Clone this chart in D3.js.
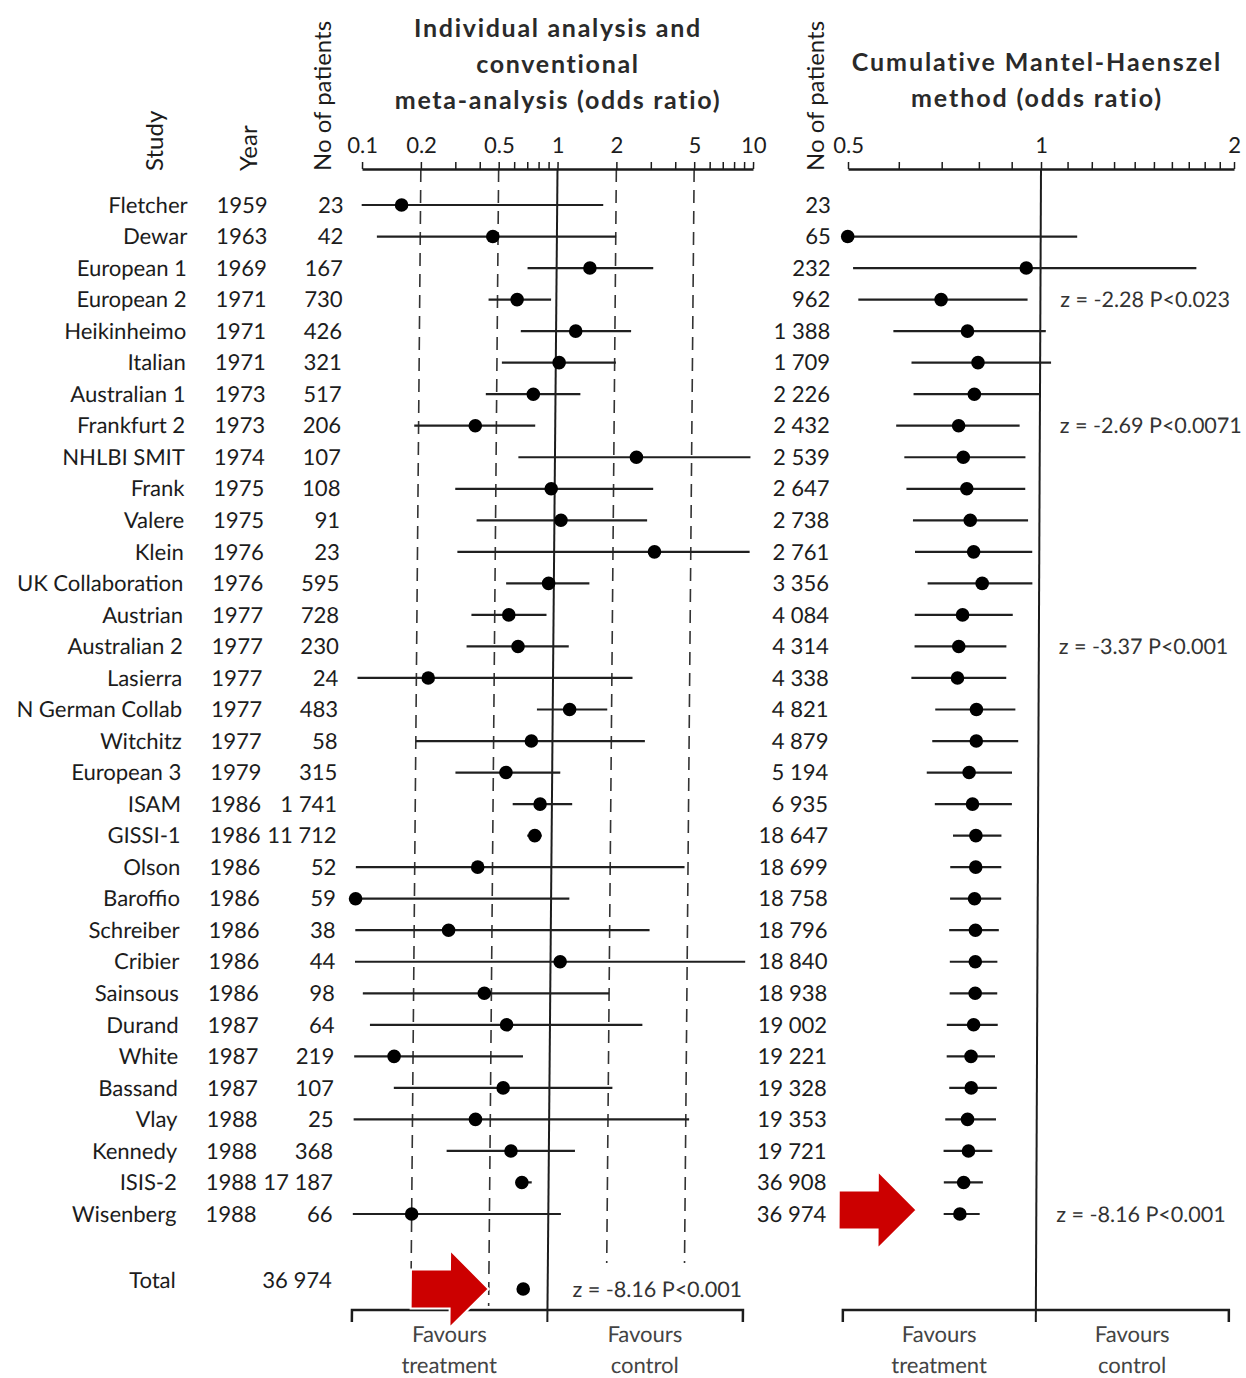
<!DOCTYPE html>
<html>
<head>
<meta charset="utf-8">
<script src="https://cdn.jsdelivr.net/npm/d3@7"></script>
<style>
  body { margin: 0; background: #fff; }
  svg { display: block; font-family: Lato, "Open Sans", sans-serif; }
</style>
</head>
<body>
<svg id="chart" width="1246" height="1378"></svg>
<script>
/* ---------- data ---------- */
const studies = ["Fletcher", "Dewar", "European 1", "European 2", "Heikinheimo", "Italian",
  "Australian 1", "Frankfurt 2", "NHLBI SMIT", "Frank", "Valere", "Klein", "UK Collaboration",
  "Austrian", "Australian 2", "Lasierra", "N German Collab", "Witchitz", "European 3", "ISAM",
  "GISSI-1", "Olson", "Baroffio", "Schreiber", "Cribier", "Sainsous", "Durand", "White",
  "Bassand", "Vlay", "Kennedy", "ISIS-2", "Wisenberg"];
const years = [1959, 1963, 1969, 1971, 1971, 1971, 1973, 1973, 1974, 1975, 1975, 1976, 1976,
  1977, 1977, 1977, 1977, 1977, 1979, 1986, 1986, 1986, 1986, 1986, 1986, 1986, 1987, 1987,
  1987, 1988, 1988, 1988, 1988];
const patients = [23, 42, 167, 730, 426, 321, 517, 206, 107, 108, 91, 23, 595, 728, 230, 24,
  483, 58, 315, 1741, 11712, 52, 59, 38, 44, 98, 64, 219, 107, 25, 368, 17187, 66];

// individual odds ratios with 95% CI
const orEst  = [0.16, 0.47, 1.48, 0.63, 1.26, 1.04, 0.77, 0.39, 2.61, 0.96, 1.08, 3.26, 0.94,
  0.59, 0.66, 0.23, 1.22, 0.78, 0.58, 0.87, 0.82, 0.42, 0.10, 0.30, 1.12, 0.46, 0.60, 0.16,
  0.58, 0.42, 0.64, 0.73, 0.20];
const orLow  = [0.10, 0.12, 0.71, 0.45, 0.66, 0.53, 0.44, 0.19, 0.65, 0.31, 0.40, 0.32, 0.57,
  0.38, 0.36, 0.10, 0.83, 0.20, 0.32, 0.63, 0.75, 0.10, 0.10, 0.10, 0.10, 0.11, 0.12, 0.10,
  0.16, 0.10, 0.30, 0.68, 0.10];
const orHigh = [1.72, 2.01, 3.12, 0.94, 2.42, 2.03, 1.34, 0.79, 10, 3.19, 2.98, 10, 1.52,
  0.92, 1.20, 2.55, 1.90, 2.97, 1.10, 1.27, 0.89, 4.8, 1.24, 3.2, 9.9, 2.0, 2.97, 0.73,
  2.1, 5.2, 1.36, 0.82, 1.16];

// cumulative Mantel-Haenszel odds ratios with 95% CI
const cumPatients = [23, 65, 232, 962, 1388, 1709, 2226, 2432, 2539, 2647, 2738, 2761, 3356,
  4084, 4314, 4338, 4821, 4879, 5194, 6935, 18647, 18699, 18758, 18796, 18840, 18938, 19002,
  19221, 19328, 19353, 19721, 36908, 36974];
const cumEst  = [null, 0.50, 0.95, 0.70, 0.77, 0.80, 0.79, 0.747, 0.76, 0.77, 0.78, 0.79, 0.815,
  0.76, 0.75, 0.747, 0.80, 0.80, 0.78, 0.79, 0.80, 0.80, 0.797, 0.80, 0.80, 0.80, 0.796,
  0.789, 0.79, 0.78, 0.783, 0.77, 0.76];
const cumLow  = [null, 0.50, 0.51, 0.52, 0.59, 0.63, 0.635, 0.597, 0.615, 0.62, 0.635, 0.64,
  0.67, 0.64, 0.64, 0.633, 0.69, 0.683, 0.67, 0.69, 0.737, 0.73, 0.73, 0.728, 0.73, 0.73,
  0.723, 0.723, 0.73, 0.72, 0.716, 0.717, 0.717];
const cumHigh = [null, 1.14, 1.75, 0.955, 1.02, 1.04, 1.00, 0.93, 0.95, 0.95, 0.96, 0.975,
  0.976, 0.91, 0.89, 0.89, 0.92, 0.93, 0.91, 0.91, 0.877, 0.877, 0.877, 0.87, 0.866, 0.866,
  0.868, 0.86, 0.866, 0.864, 0.853, 0.825, 0.816];

const totalPatients = 36974;
const totalOR = 0.75;

const leftTicks = [0.1, 0.2, 0.3, 0.4, 0.5, 0.6, 0.7, 0.8, 0.9, 1, 2, 3, 4, 5, 6, 7, 8, 9, 10];
const leftLabels = [0.1, 0.2, 0.5, 1, 2, 5, 10];
const dashedRefs = [0.2, 0.5, 2, 5];
const rightTicks = [0.5, 0.6, 0.7, 0.8, 0.9, 1, 1.1, 1.2, 1.3, 1.4, 1.5, 1.6, 1.7, 1.8, 1.9, 2];
const rightLabels = [0.5, 1, 2];

const zNotes = [
  { row: 3, text: "z = -2.28 P<0.023" },
  { row: 7, text: "z = -2.69 P<0.0071" },
  { row: 14, text: "z = -3.37 P<0.001" },
  { row: 32, text: "z = -8.16 P<0.001" }
];
const totalNote = "z = -8.16 P<0.001";

/* ---------- layout ---------- */
const svg = d3.select("#chart");
const ink = "#1c1c1c";
const axisY = 169;
const bottomY = 1310;
const totalY = 1289;

const rowY = d3.scaleLinear().domain([0, studies.length - 1]).range([205, 1214]);
const xL = d3.scaleLog().domain([0.1, 10]).range([362, 753]).clamp(true);
const xR = d3.scaleLog().base(2).domain([0.5, 2]).range([848, 1234]).clamp(true);

const nf = d3.formatLocale({ decimal: ".", thousands: " ", grouping: [3], currency: ["", ""] }).format(",");

svg.append("rect").attr("width", 1246).attr("height", 1378).attr("fill", "#fff");

// the scanned original leans slightly; each block gets its own small shear
function shear(k) {
  const deg = Math.atan(k) * 180 / Math.PI;
  return `translate(0,${axisY}) skewX(${deg}) translate(0,${-axisY})`;
}

/* ---------- column headers ---------- */
const headers = [
  { x: 163, text: "Study" },
  { x: 257, text: "Year" },
  { x: 331, text: "No of patients" },
  { x: 824, text: "No of patients" }
];
svg.selectAll(".colhead")
  .data(headers)
  .enter().append("text")
  .attr("class", "colhead")
  .attr("transform", d => `translate(${d.x},171) rotate(-90)`)
  .attr("font-size", 24)
  .attr("fill", ink)
  .text(d => d.text);

// titles
const titleL = ["Individual analysis and", "conventional", "meta-analysis (odds ratio)"];
svg.selectAll(".titleL")
  .data(titleL)
  .enter().append("text")
  .attr("x", 558)
  .attr("y", (d, i) => 37 + i * 36)
  .attr("text-anchor", "middle")
  .attr("font-size", 25)
  .attr("font-weight", 700)
  .attr("letter-spacing", 1.7)
  .attr("fill", "#2a2a2a")
  .text(d => d);

const titleR = ["Cumulative Mantel-Haenszel", "method (odds ratio)"];
svg.selectAll(".titleR")
  .data(titleR)
  .enter().append("text")
  .attr("x", 1037)
  .attr("y", (d, i) => 71 + i * 36)
  .attr("text-anchor", "middle")
  .attr("font-size", 25)
  .attr("font-weight", 700)
  .attr("letter-spacing", 1.9)
  .attr("fill", "#2a2a2a")
  .text(d => d);

/* ---------- table columns ---------- */
const cols = svg.append("g").attr("transform", shear(-0.011))
  .attr("font-size", 22).attr("fill", ink).attr("text-anchor", "end");

cols.selectAll(".study").data(studies).enter().append("text")
  .attr("x", 188).attr("y", (d, i) => rowY(i)).attr("dy", "0.35em").text(d => d);
cols.selectAll(".year").data(years).enter().append("text")
  .attr("x", 268).attr("y", (d, i) => rowY(i)).attr("dy", "0.35em").text(d => d);
cols.selectAll(".npat").data(patients).enter().append("text")
  .attr("x", 344).attr("y", (d, i) => rowY(i)).attr("dy", "0.35em").text(d => nf(d));

cols.append("text").attr("x", 188).attr("y", totalY - 9).attr("dy", "0.35em").text("Total");
cols.append("text").attr("x", 344).attr("y", totalY - 9).attr("dy", "0.35em").text(nf(totalPatients));

/* ---------- left panel ---------- */
const left = svg.append("g").attr("transform", shear(-0.0088));

left.selectAll(".dash").data(dashedRefs).enter().append("line")
  .attr("x1", d => xL(d)).attr("x2", d => xL(d))
  .attr("y1", axisY).attr("y2", d => d < 1 ? bottomY - 4 : 1263)
  .attr("stroke", "#333").attr("stroke-width", 1.6)
  .attr("stroke-dasharray", "13,8");

left.append("line")
  .attr("x1", xL(1)).attr("x2", xL(1))
  .attr("y1", axisY).attr("y2", bottomY + 12)
  .attr("stroke", ink).attr("stroke-width", 2);

const axL = d3.axisTop(xL).tickValues(leftTicks)
  .tickFormat(d => leftLabels.includes(d) ? d : "")
  .tickSize(7).tickSizeOuter(0).tickPadding(9);
const gAxL = left.append("g").attr("transform", `translate(0,${axisY})`).call(axL);
gAxL.select(".domain").attr("stroke", ink).attr("stroke-width", 2.5);
gAxL.selectAll(".tick line").attr("stroke", ink).attr("stroke-width", 1.5);
gAxL.selectAll(".tick text").attr("font-size", 22).attr("fill", ink)
  .attr("font-family", "Lato, 'Open Sans', sans-serif");

left.selectAll(".ci").data(studies).enter().append("line")
  .attr("x1", (d, i) => xL(orLow[i])).attr("x2", (d, i) => xL(orHigh[i]))
  .attr("y1", (d, i) => rowY(i)).attr("y2", (d, i) => rowY(i))
  .attr("stroke", "#202020").attr("stroke-width", 2.2);

left.selectAll(".pt").data(studies).enter().append("circle")
  .attr("cx", (d, i) => xL(orEst[i])).attr("cy", (d, i) => rowY(i))
  .attr("r", 6.8).attr("fill", "#000");

left.append("circle").attr("cx", xL(totalOR)).attr("cy", totalY).attr("r", 6.8).attr("fill", "#000");
left.append("text").attr("x", xL(1) + 25).attr("y", totalY).attr("dy", "0.35em")
  .attr("font-size", 21.5).attr("fill", "#333").text(totalNote);

// bottom axis of the left panel
const bL = left.append("g").attr("fill", "none").attr("stroke", ink).attr("stroke-width", 2.5);
bL.append("path")
  .attr("d", `M${xL(0.1)},${bottomY + 12}V${bottomY}H${xL(10)}V${bottomY + 12}`);
left.selectAll(".favL").data([[0.1, 1, "treatment"], [1, 10, "control"]]).enter()
  .each(function (d) {
    const cx = (xL(d[0]) + xL(d[1])) / 2;
    const t = d3.select(this).append("text").attr("text-anchor", "middle")
      .attr("font-size", 22).attr("fill", "#444");
    t.append("tspan").attr("x", cx).attr("y", 1342).text("Favours");
    t.append("tspan").attr("x", cx).attr("y", 1373).text(d[2]);
  });

/* ---------- right panel ---------- */
const right = svg.append("g").attr("transform", shear(-0.0045));

right.selectAll(".cum").data(cumPatients).enter().append("text")
  .attr("x", 831).attr("y", (d, i) => rowY(i)).attr("dy", "0.35em")
  .attr("text-anchor", "end").attr("font-size", 22).attr("fill", ink)
  .text(d => nf(d));

right.append("line")
  .attr("x1", xR(1)).attr("x2", xR(1))
  .attr("y1", axisY).attr("y2", bottomY + 12)
  .attr("stroke", ink).attr("stroke-width", 2);

const axR = d3.axisTop(xR).tickValues(rightTicks)
  .tickFormat(d => rightLabels.includes(d) ? d : "")
  .tickSize(7).tickSizeOuter(0).tickPadding(9);
const gAxR = right.append("g").attr("transform", `translate(0,${axisY})`).call(axR);
gAxR.select(".domain").attr("stroke", ink).attr("stroke-width", 2.5);
gAxR.selectAll(".tick line").attr("stroke", ink).attr("stroke-width", 1.5);
gAxR.selectAll(".tick text").attr("font-size", 22).attr("fill", ink)
  .attr("font-family", "Lato, 'Open Sans', sans-serif");

const cumRows = cumEst.map((v, i) => ({ i, v, lo: cumLow[i], hi: cumHigh[i] })).filter(d => d.v !== null);

right.selectAll(".cci").data(cumRows).enter().append("line")
  .attr("x1", d => xR(d.lo)).attr("x2", d => xR(d.hi))
  .attr("y1", d => rowY(d.i)).attr("y2", d => rowY(d.i))
  .attr("stroke", "#202020").attr("stroke-width", 2.2);

right.selectAll(".cpt").data(cumRows).enter().append("circle")
  .attr("cx", d => xR(d.v)).attr("cy", d => rowY(d.i))
  .attr("r", 6.8).attr("fill", "#000");

right.selectAll(".znote").data(zNotes).enter().append("text")
  .attr("x", xR(1) + 20).attr("y", d => rowY(d.row)).attr("dy", "0.35em")
  .attr("font-size", 21.5).attr("fill", "#333").text(d => d.text);

const bR = right.append("g").attr("fill", "none").attr("stroke", ink).attr("stroke-width", 2.5);
bR.append("path")
  .attr("d", `M${xR(0.5)},${bottomY + 12}V${bottomY}H${xR(2)}V${bottomY + 12}`);
right.selectAll(".favR").data([[0.5, 1, "treatment"], [1, 2, "control"]]).enter()
  .each(function (d) {
    const cx = (xR(d[0]) + xR(d[1])) / 2;
    const t = d3.select(this).append("text").attr("text-anchor", "middle")
      .attr("font-size", 22).attr("fill", "#444");
    t.append("tspan").attr("x", cx).attr("y", 1342).text("Favours");
    t.append("tspan").attr("x", cx).attr("y", 1373).text(d[2]);
  });

/* ---------- red arrows ---------- */
function arrow(g, tipX, tipY) {
  const pts = [[-78, -19.5], [-39, -19.5], [-39, -39], [0, 0], [-39, 39], [-39, 19.5], [-78, 19.5]];
  g.append("path")
    .attr("d", d3.line()(pts.map(p => [tipX + p[0], tipY + p[1]])) + "Z")
    .attr("fill", "#cc0000").attr("stroke", "#fff").attr("stroke-width", 2);
}
arrow(left, xL(0.5), totalY);
arrow(right, xR(cumLow[cumLow.length - 1]) - 27, rowY(studies.length - 1) - 4);
</script>
</body>
</html>
